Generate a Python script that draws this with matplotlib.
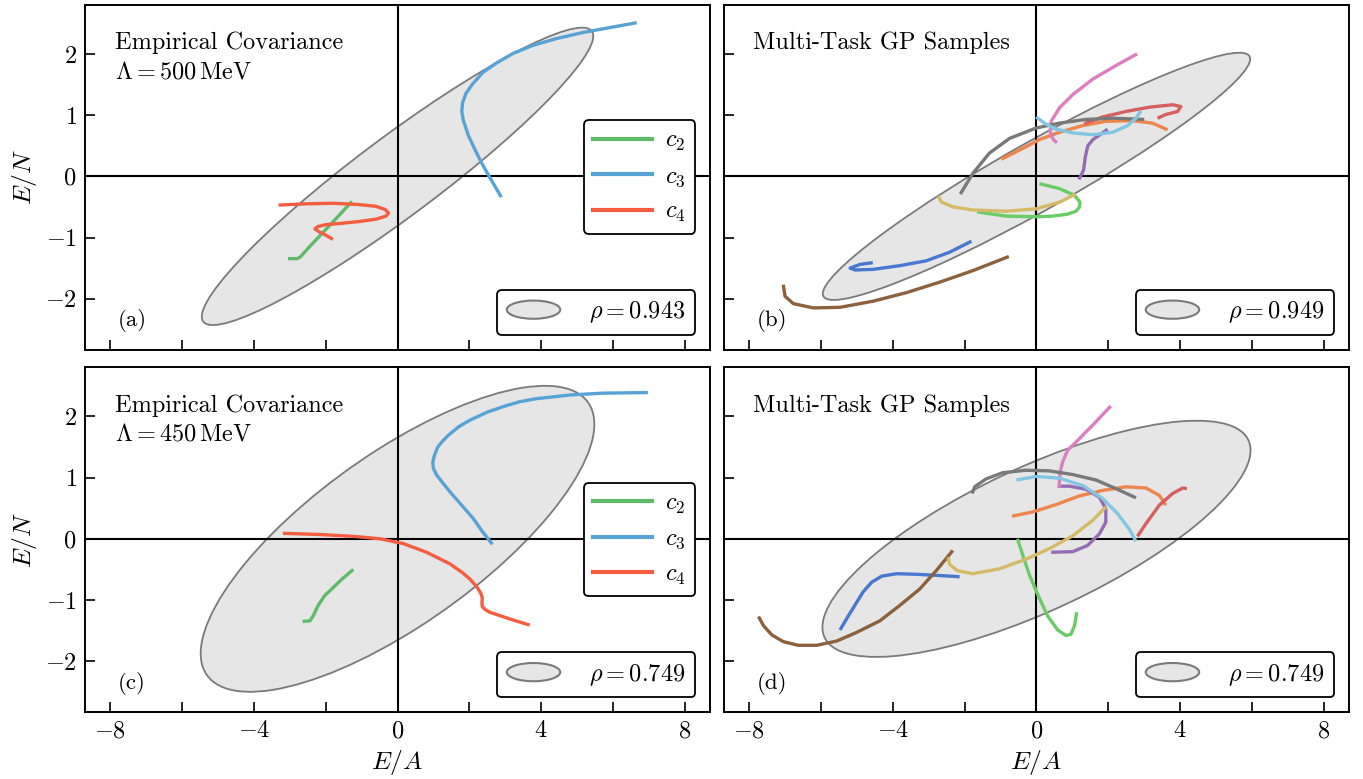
import numpy as np
import matplotlib
matplotlib.use("Agg")
import matplotlib.pyplot as plt
from matplotlib.patches import Ellipse
from matplotlib.lines import Line2D
from matplotlib.legend_handler import HandlerPatch

plt.rcParams['font.family'] = 'serif'
plt.rcParams['font.serif'] = ['cmr10', 'DejaVu Serif']
plt.rcParams['mathtext.fontset'] = 'cm'
plt.rcParams['axes.unicode_minus'] = False
plt.rcParams['font.size'] = 17.5

# ---- ellipse parameters (2-sigma extents along each axis, correlation) ----
panel_tags = ['(a)', '(b)', '(c)', '(d)']
ellipse_half_x = [5.45, 5.95, 5.48, 5.96]
ellipse_half_y = [2.43, 2.02, 2.50, 1.93]
ellipse_rho = [0.943, 0.949, 0.749, 0.749]
cutoffs = [500, 450]

# ---- empirical coefficient trajectories, Lambda = 500 MeV ----
a_c2_x = [-3.05, -2.80, -2.71, -2.45, -2.00, -1.60, -1.27]
a_c2_y = [-1.345, -1.345, -1.32, -1.15, -0.87, -0.62, -0.41]
a_c3_x = [2.89, 2.71, 2.53, 2.35, 2.16, 1.97, 1.83, 1.79, 1.81, 1.90, 2.09, 2.38,
          2.75, 3.22, 3.77, 4.42, 5.16, 5.90, 6.66]
a_c3_y = [-0.34, -0.16, 0.02, 0.21, 0.43, 0.67, 0.92, 1.06, 1.20, 1.35, 1.51, 1.70,
          1.85, 2.01, 2.14, 2.25, 2.35, 2.43, 2.51]
a_c4_x = [-3.31, -2.60, -1.80, -1.10, -0.60, -0.35, -0.25, -0.32, -0.60, -1.10,
          -1.60, -2.00, -2.22, -2.30, -2.20, -2.00, -1.80]
a_c4_y = [-0.47, -0.45, -0.44, -0.46, -0.49, -0.54, -0.60, -0.65, -0.70, -0.74,
          -0.77, -0.79, -0.82, -0.86, -0.90, -0.96, -1.03]

# ---- empirical coefficient trajectories, Lambda = 450 MeV ----
c_c2_x = [-2.64, -2.44, -2.35, -2.21, -2.03, -1.78, -1.55, -1.23]
c_c2_y = [-1.35, -1.34, -1.26, -1.09, -0.93, -0.79, -0.66, -0.50]
c_c3_x = [2.64, 2.35, 2.11, 1.80, 1.50, 1.25, 1.09, 1.00, 0.98, 1.03, 1.12, 1.26,
          1.41, 1.70, 2.02, 2.50, 2.94, 3.40, 3.87, 4.80, 5.72, 6.97]
c_c3_y = [-0.09, 0.13, 0.33, 0.54, 0.74, 0.92, 1.04, 1.15, 1.25, 1.37, 1.50, 1.60,
          1.69, 1.83, 1.94, 2.07, 2.16, 2.24, 2.29, 2.35, 2.38, 2.39]
c_c4_x = [-3.19, -2.15, -1.22, -0.48, 0.17, 0.81, 1.46, 1.80, 2.02, 2.20, 2.31,
          2.36, 2.35, 2.36, 2.45, 2.57, 3.13, 3.68]
c_c4_y = [0.09, 0.07, 0.04, 0.0, -0.08, -0.22, -0.41, -0.55, -0.66, -0.78, -0.88,
          -0.96, -1.05, -1.11, -1.16, -1.20, -1.31, -1.41]

# ---- multi-task GP samples, Lambda = 500 MeV ----
b_blue_x = [-4.56, -4.92, -5.19, -5.05, -4.55, -3.81, -3.07, -2.42, -1.81]
b_blue_y = [-1.41, -1.44, -1.50, -1.53, -1.52, -1.46, -1.38, -1.24, -1.06]
b_orange_x = [-0.98, -0.47, 0.08, 0.64, 1.29, 1.93, 2.68, 3.23, 3.65]
b_orange_y = [0.28, 0.43, 0.60, 0.72, 0.83, 0.90, 0.91, 0.87, 0.76]
b_green_x = [0.08, 0.64, 1.06, 1.21, 1.20, 1.10, 0.85, 0.45, 0.0, -0.84, -1.65]
b_green_y = [-0.12, -0.20, -0.31, -0.42, -0.50, -0.57, -0.62, -0.65, -0.66, -0.65, -0.58]
b_red_x = [1.33, 1.84, 2.49, 3.14, 3.79, 4.02, 3.93, 3.60, 3.37]
b_red_y = [0.86, 0.97, 1.06, 1.13, 1.17, 1.14, 1.06, 1.01, 0.95]
b_purple_x = [1.18, 1.31, 1.36, 1.43, 1.57, 1.84, 1.98]
b_purple_y = [-0.05, 0.10, 0.32, 0.50, 0.60, 0.71, 0.77]
b_brown_x = [-7.05, -7.00, -6.77, -6.21, -5.47, -4.55, -3.62, -2.70, -1.77, -0.77]
b_brown_y = [-1.77, -1.96, -2.08, -2.15, -2.14, -2.04, -1.90, -1.73, -1.54, -1.31]
b_pink_x = [0.57, 0.47, 0.38, 0.41, 0.64, 1.02, 1.57, 2.21, 2.80]
b_pink_y = [0.55, 0.60, 0.73, 0.90, 1.12, 1.34, 1.59, 1.81, 2.00]
b_gray_x = [-2.12, -1.77, -1.31, -0.75, -0.01, 0.64, 1.38, 2.12, 3.00]
b_gray_y = [-0.29, 0.05, 0.38, 0.62, 0.79, 0.87, 0.93, 0.95, 0.93]
b_olive_x = [-2.74, -2.65, -2.32, -1.77, -0.84, 0.0, 0.65, 1.09]
b_olive_y = [-0.32, -0.42, -0.50, -0.55, -0.57, -0.53, -0.42, -0.29]
b_cyan_x = [-0.01, 0.22, 0.55, 1.01, 1.57, 2.12, 2.54, 2.77, 2.91]
b_cyan_y = [0.97, 0.87, 0.77, 0.71, 0.68, 0.72, 0.83, 0.95, 1.07]

# ---- multi-task GP samples, Lambda = 450 MeV ----
d_blue_x = [-5.47, -5.29, -5.06, -4.83, -4.59, -4.31, -3.89, -3.34, -2.69, -2.14]
d_blue_y = [-1.49, -1.31, -1.09, -0.87, -0.71, -0.61, -0.57, -0.58, -0.60, -0.62]
d_orange_x = [-0.68, -0.10, 0.55, 1.19, 1.84, 2.49, 3.05, 3.42, 3.60]
d_orange_y = [0.37, 0.44, 0.56, 0.70, 0.79, 0.85, 0.83, 0.71, 0.55]
d_green_x = [-0.53, -0.38, -0.19, 0.05, 0.31, 0.59, 0.82, 0.96, 1.06, 1.12]
d_green_y = [0.0, -0.27, -0.60, -0.93, -1.26, -1.49, -1.58, -1.56, -1.42, -1.20]
d_red_x = [2.81, 3.05, 3.42, 3.79, 4.07, 4.19]
d_red_y = [0.04, 0.25, 0.55, 0.74, 0.83, 0.82]
d_purple_x = [0.64, 0.92, 1.38, 1.75, 1.93, 1.93, 1.75, 1.42, 1.01, 0.41]
d_purple_y = [0.86, 0.86, 0.81, 0.68, 0.49, 0.27, 0.08, -0.11, -0.21, -0.22]
d_brown_x = [-7.74, -7.60, -7.37, -7.05, -6.63, -6.12, -5.56, -5.01, -4.36, -3.81,
             -3.25, -2.79, -2.33]
d_brown_y = [-1.27, -1.42, -1.57, -1.68, -1.74, -1.74, -1.67, -1.53, -1.34, -1.09,
             -0.82, -0.52, -0.19]
d_pink_x = [0.62, 0.64, 0.66, 0.73, 0.87, 1.10, 1.57, 2.07]
d_pink_y = [0.83, 0.95, 1.09, 1.26, 1.45, 1.58, 1.86, 2.17]
d_gray_x = [-1.79, -1.72, -1.40, -0.94, -0.30, 0.36, 1.01, 1.66, 2.21, 2.77]
d_gray_y = [0.74, 0.85, 0.98, 1.08, 1.12, 1.11, 1.05, 0.96, 0.82, 0.67]
d_olive_x = [-2.46, -2.42, -2.20, -1.77, -1.03, -0.28, 0.36, 1.01, 1.56, 1.93]
d_olive_y = [-0.30, -0.42, -0.52, -0.57, -0.49, -0.33, -0.16, 0.05, 0.30, 0.52]
d_cyan_x = [-0.56, 0.0, 0.64, 1.29, 1.84, 2.26, 2.58, 2.77]
d_cyan_y = [0.96, 1.02, 0.99, 0.87, 0.66, 0.41, 0.16, -0.04]

coef_labels = ['$c_2$', '$c_3$', '$c_4$']
coef_colors = ['#5fbb68', '#58a3d6', '#f45d3f']
sample_colors = ['#4878d0', '#ee854a', '#6acc64', '#d65f5f', '#956cb4',
                 '#8c613c', '#dc7ec0', '#797979', '#d5bb67', '#82c6e2']

x_ticks = [-8, -6, -4, -2, 0, 2, 4, 6, 8]
x_labelled = [-8, -4, 0, 4, 8]
y_ticks = [-2, -1, 0, 1, 2]

ell_face = '#e6e6e6'
ell_edge = '#7a7a7a'


class HandlerEllipse(HandlerPatch):
    def create_artists(self, legend, orig_handle, xdescent, ydescent,
                       width, height, fontsize, trans):
        center = (0.5 * width - 0.5 * xdescent, 0.5 * height - 0.5 * ydescent)
        p = Ellipse(xy=center, width=width + xdescent, height=height + ydescent)
        self.update_prop(p, orig_handle, legend)
        p.set_transform(trans)
        return [p]


def cov_ellipse(hx, hy, rho):
    cov = np.array([[hx ** 2, rho * hx * hy], [rho * hx * hy, hy ** 2]])
    vals, vecs = np.linalg.eigh(cov)
    order = vals.argsort()[::-1]
    vals, vecs = vals[order], vecs[:, order]
    angle = np.degrees(np.arctan2(vecs[1, 0], vecs[0, 0]))
    return Ellipse((0, 0), 2 * np.sqrt(vals[0]), 2 * np.sqrt(vals[1]), angle=angle,
                   facecolor=ell_face, edgecolor=ell_edge, lw=1.3, zorder=1)


def draw(ax, xs, ys, col):
    ax.plot(xs, ys, color=col, lw=2.4, zorder=3, solid_capstyle='butt',
            solid_joinstyle='round')


fig, axs = plt.subplots(2, 2, figsize=(13.63, 7.79), dpi=100)
fig.subplots_adjust(left=0.0624, right=0.9897, bottom=0.086, top=0.9936,
                    wspace=0.0224, hspace=0.052)

rho_legends = []
for i, ax in enumerate(axs.flat):
    ax.add_patch(cov_ellipse(ellipse_half_x[i], ellipse_half_y[i], ellipse_rho[i]))
    ax.axhline(0, color='k', lw=1.5, zorder=2)
    ax.axvline(0, color='k', lw=1.5, zorder=2)
    ax.set_xlim(-8.7, 8.7)
    ax.set_ylim(-2.83, 2.8)
    ax.set_xticks(x_ticks, [f'${v}$' if v in x_labelled else '' for v in x_ticks])
    ax.set_yticks(y_ticks, [f'${v}$' for v in y_ticks])
    ax.tick_params(direction='in', length=7, width=1.2, labelsize=17.5, pad=6)
    for s in ax.spines.values():
        s.set_linewidth(1.4)
    ax.text(0.053, 0.067, panel_tags[i], transform=ax.transAxes, fontsize=16.5)

    ell_handle = Ellipse((0, 0), 1, 1, facecolor=ell_face, edgecolor=ell_edge, lw=1.5)
    leg_rho = ax.legend([ell_handle], [rf'$\rho = {ellipse_rho[i]:.3f}$'],
                        handler_map={Ellipse: HandlerEllipse()},
                        loc='lower right', fontsize=17.5, handlelength=2.2,
                        handleheight=0.75, handletextpad=1.2, fancybox=True,
                        framealpha=1, edgecolor='k', borderaxespad=0.6)
    leg_rho.get_frame().set_linewidth(1.3)
    leg_rho.set_zorder(5)
    rho_legends.append(leg_rho)

    if i % 2 == 1:
        ax.tick_params(labelleft=False)
    else:
        ax.set_ylabel('$E/N$', fontsize=18.5)
    if i < 2:
        ax.tick_params(labelbottom=False)
    else:
        ax.set_xlabel('$E/A$', fontsize=18.5)

# left column: empirical trajectories
empirical = [
    [(a_c2_x, a_c2_y), (a_c3_x, a_c3_y), (a_c4_x, a_c4_y)],
    [(c_c2_x, c_c2_y), (c_c3_x, c_c3_y), (c_c4_x, c_c4_y)],
]
for ax, leg_rho, curves, cut in zip(axs[:, 0], rho_legends[::2], empirical, cutoffs):
    for (xs, ys), col in zip(curves, coef_colors):
        draw(ax, xs, ys, col)
    ax.text(0.048, 0.872, 'Empirical Covariance', transform=ax.transAxes,
            va='baseline')
    ax.text(0.048, 0.788, rf'$\Lambda = {cut}\,\mathrm{{MeV}}$', transform=ax.transAxes,
            va='baseline')
    ax.add_artist(leg_rho)
    handles = [Line2D([], [], color=c, lw=3) for c in coef_colors]
    leg = ax.legend(handles, coef_labels, loc='center right', fontsize=17.5,
                    handlelength=2.4, handletextpad=0.55, fancybox=True,
                    framealpha=1, edgecolor='k', borderaxespad=0.6)
    leg.get_frame().set_linewidth(1.3)
    leg.set_zorder(5)

# right column: GP samples
samples = [
    [(b_blue_x, b_blue_y), (b_orange_x, b_orange_y), (b_green_x, b_green_y),
     (b_red_x, b_red_y), (b_purple_x, b_purple_y), (b_brown_x, b_brown_y),
     (b_pink_x, b_pink_y), (b_gray_x, b_gray_y), (b_olive_x, b_olive_y),
     (b_cyan_x, b_cyan_y)],
    [(d_blue_x, d_blue_y), (d_orange_x, d_orange_y), (d_green_x, d_green_y),
     (d_red_x, d_red_y), (d_purple_x, d_purple_y), (d_brown_x, d_brown_y),
     (d_pink_x, d_pink_y), (d_gray_x, d_gray_y), (d_olive_x, d_olive_y),
     (d_cyan_x, d_cyan_y)],
]
for ax, curves in zip(axs[:, 1], samples):
    for (xs, ys), col in zip(curves, sample_colors):
        draw(ax, xs, ys, col)
    ax.text(0.046, 0.872, 'Multi-Task GP Samples', transform=ax.transAxes,
            va='baseline')

fig.savefig('out.png', dpi=100)
